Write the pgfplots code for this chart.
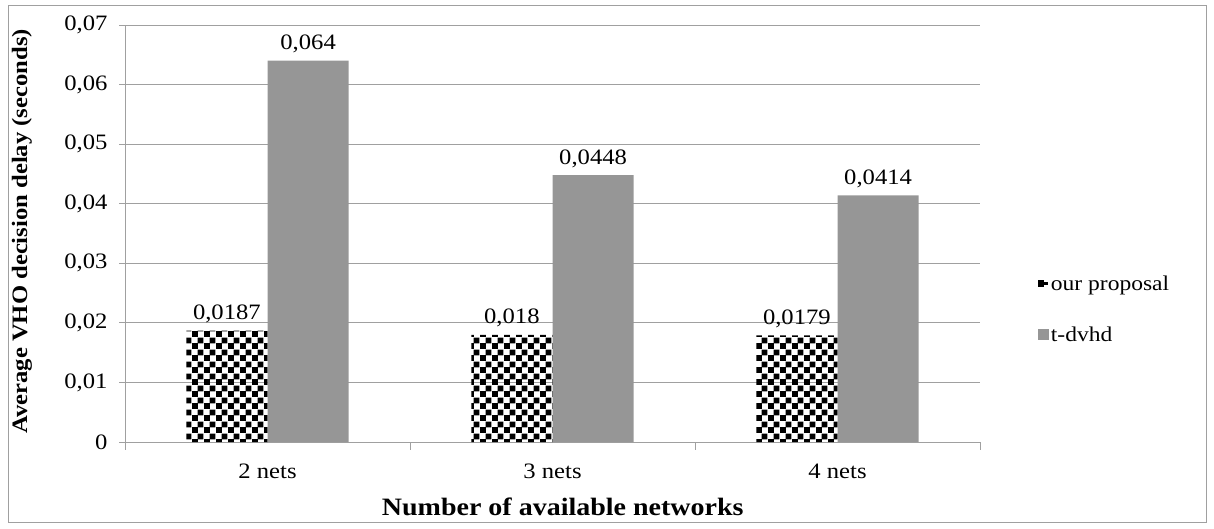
\documentclass[border=0pt]{standalone}
\usepackage{fontspec}
\setmainfont{Liberation Serif}[FakeStretch=1.12]
\usepackage{pgfplots}
\pgfplotsset{compat=1.18}
\usetikzlibrary{patterns}
\pgfdeclarepatternformonly{bigchecker}{\pgfpointorigin}{\pgfqpoint{12pt}{12pt}}{\pgfqpoint{12pt}{12pt}}{%
 \pgfpathrectangle{\pgfpointorigin}{\pgfqpoint{6.3pt}{6.3pt}}%
 \pgfpathrectangle{\pgfqpoint{6pt}{6pt}}{\pgfqpoint{6.3pt}{6.3pt}}%
 \pgfusepath{fill}}
\definecolor{bargray}{HTML}{969696}
\definecolor{gridgray}{HTML}{A0A0A0}
\newcommand{\fs}{\fontsize{22}{26}\selectfont}
\begin{document}
\begin{tikzpicture}
\path (0,0) rectangle (1214pt,528pt);
\draw[gridgray, line width=1pt] (8pt,6pt) rectangle (1206pt,522pt);
\begin{axis}[
 at={(125pt,86pt)}, anchor=south west,
 scale only axis, width=855pt, height=417pt,
 xmin=-0.5, xmax=2.5, ymin=0, ymax=0.07,
 axis x line*=bottom, axis y line*=left,
 axis line style={gridgray, line width=1pt, -},
 clip=false,
 ybar=0pt, bar width=0.285,
 scaled y ticks=false,
 /pgf/number format/.cd, fixed, precision=4, use comma, assume math mode=true, /pgfplots/.cd,
 ytick={0,0.01,0.02,0.03,0.04,0.05,0.06,0.07},
 yticklabels={0,{0,01},{0,02},{0,03},{0,04},{0,05},{0,06},{0,07}},
 tick align=outside, major tick length=6pt,
 y tick style={gridgray, line width=1pt},
 ymajorgrids, major grid style={gridgray, line width=1pt},
 xtick={0,1,2}, xticklabels={2 nets,3 nets,4 nets},
 x tick style={draw=none},
 tick label style={font=\fs},
 yticklabel style={xshift=-8pt},
 xticklabel style={yshift=-12pt},
 ylabel={\textbf{Average VHO decision delay (seconds)}},
 ylabel style={at={(axis description cs:-0.1205,0.505)}, anchor=center, font=\fontsize{22}{26}\selectfont},
 xlabel={\textbf{Number of available networks}},
 xlabel style={at={(axis description cs:0.512,-0.155)}, anchor=center, font=\fontsize{25}{30}\selectfont},
 legend style={at={(axis description cs:1.064,0.408)}, anchor=north west, draw=none, fill=none, font=\fontsize{21}{25}\selectfont, row sep=31pt},
 legend cell align=left,
 nodes near coords,
 every node near coord/.append style={font=\fs, yshift=4pt},
]
\addplot[draw=none, pattern=bigchecker, pattern color=black,
  legend image code/.code={\fill[black] (0pt,-3pt) rectangle (6pt,4pt); \fill[black] (6pt,-1pt) rectangle (10pt,2pt);}]
 coordinates {(0,0.0187) (1,0.018) (2,0.0179)};
\addlegendentry{our proposal}
\addplot[draw=none, fill=bargray,
  legend image code/.code={\fill[bargray] (0pt,-5pt) rectangle (11pt,6pt);}]
 coordinates {(0,0.064) (1,0.0448) (2,0.0414)};
\addlegendentry{t-dvhd}
\draw[gridgray, line width=1pt] (axis cs:-0.5,0) -- ([yshift=-8pt]axis cs:-0.5,0);
\draw[gridgray, line width=1pt] (axis cs:0.5,0) -- ([yshift=-8pt]axis cs:0.5,0);
\draw[gridgray, line width=1pt] (axis cs:1.5,0) -- ([yshift=-8pt]axis cs:1.5,0);
\draw[gridgray, line width=1pt] (axis cs:2.5,0) -- ([yshift=-8pt]axis cs:2.5,0);
\end{axis}
\end{tikzpicture}
\end{document}
